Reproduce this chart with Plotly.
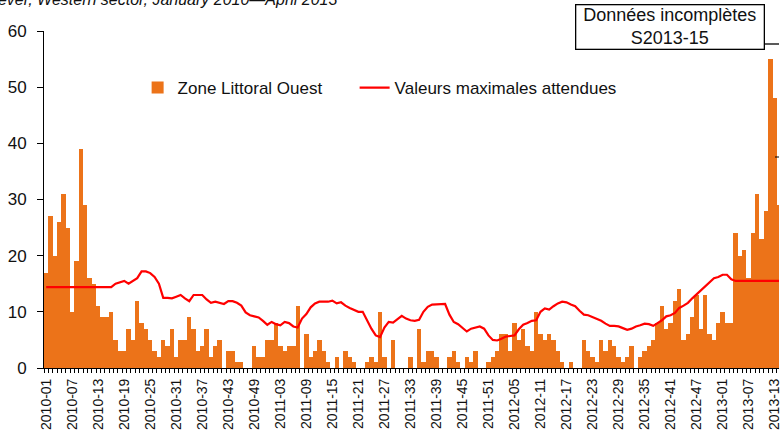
import plotly.graph_objects as go

# Weekly cases, Zone Littoral Ouest, 2010-01 .. 2013-14
cases = [17, 27, 20, 26, 31, 25, 10, 19, 39, 29, 16, 15, 11, 9, 9, 10, 5, 3, 3, 7,
         5, 12, 8, 7, 5, 3, 2, 5, 4, 7, 2, 5, 5, 9, 7, 3, 4, 7, 2, 4,
         5, 0, 3, 3, 1, 1, 0, 0, 4, 2, 2, 5, 5, 8, 4, 3, 4, 4, 11, 0,
         6, 2, 3, 5, 3, 1, 0, 2, 0, 3, 2, 1, 0, 0, 1, 2, 1, 10, 2, 0,
         5, 0, 0, 0, 2, 0, 7, 1, 3, 3, 2, 0, 0, 2, 3, 1, 0, 2, 1, 3,
         0, 0, 1, 2, 3, 6, 6, 3, 8, 5, 7, 4, 3, 10, 6, 5, 6, 5, 3, 1,
         0, 1, 0, 0, 5, 3, 2, 1, 5, 3, 5, 4, 2, 1, 2, 4, 0, 2, 3, 4,
         5, 8, 11, 7, 8, 12, 14, 5, 6, 9, 13, 7, 13, 6, 5, 8, 10, 8, 8, 24,
         20, 21, 16, 24, 31, 23, 28, 55, 48, 29]

# Expected maximum values
max_expected = [14.4, 14.4, 14.4, 14.4, 14.4, 14.4, 14.4, 14.4, 14.4, 14.4,
                14.4, 14.4, 14.4, 14.4, 14.4, 14.4, 15.0, 15.3, 15.5, 15.0,
                15.5, 16.0, 17.2, 17.2, 16.9, 16.2, 15.0, 12.5, 12.5, 12.4,
                12.7, 13.0, 12.4, 11.9, 13.0, 13.0, 13.0, 12.2, 11.6, 11.8,
                11.6, 11.4, 11.9, 11.9, 11.6, 11.1, 9.9, 9.4, 9.2, 9.0,
                8.4, 7.7, 8.2, 7.8, 7.6, 8.2, 8.0, 7.4, 7.2, 8.8,
                9.6, 10.8, 11.5, 11.8, 11.8, 11.8, 12.0, 11.5, 11.7, 11.1,
                10.7, 10.3, 10.0, 10.0, 8.5, 7.0, 5.8, 5.5, 7.2, 8.2,
                8.1, 8.7, 9.3, 8.8, 8.5, 8.4, 8.6, 10.0, 10.9, 11.3,
                11.3, 11.4, 11.4, 9.5, 8.2, 7.8, 7.2, 6.5, 7.0, 7.2,
                7.4, 7.0, 5.8, 5.0, 4.9, 5.2, 5.6, 5.7, 5.8, 6.9,
                7.7, 8.0, 8.4, 8.5, 10.0, 10.6, 10.4, 11.0, 11.5, 11.8,
                11.7, 11.3, 11.0, 10.2, 9.5, 9.4, 9.1, 8.7, 8.4, 7.9,
                7.5, 7.5, 7.4, 7.1, 6.8, 7.0, 7.4, 7.6, 7.9, 7.8,
                7.5, 8.0, 8.5, 9.2, 9.4, 9.8, 10.7, 11.1, 11.6, 12.4,
                13.1, 13.9, 14.6, 15.2, 16.0, 16.2, 16.6, 16.6, 15.8, 15.5,
                15.5, 15.5, 15.5, 15.5, 15.5, 15.5, 15.5, 15.5, 15.5, 15.5]

years = [2010, 2011, 2012, 2013]
weeks_per_year = [52, 52, 52, 14]
weeks = [f"{y}-{w:02d}" for y, n in zip(years, weeks_per_year) for w in range(1, n + 1)]
idx = list(range(len(weeks)))
tick_idx = idx[::6]
tick_text = weeks[::6]

font_family = "Liberation Sans, Arial, sans-serif"

fig = go.Figure()
fig.add_trace(go.Bar(
    x=idx, y=cases, name="Zone Littoral Ouest",
    marker=dict(color="#EC7319", line=dict(width=0)),
    width=1.0, legendwidth=172,
))
fig.add_trace(go.Scatter(
    x=idx, y=max_expected, name="Valeurs maximales attendues",
    mode="lines", line=dict(color="#FF0000", width=2.2),
))

W, H = 782, 432
L, R, T, B = 44, 0, 31, 64
pw = W - L - R
ph = H - T - B

def px_x(p):
    return (p - L) / pw

def px_y(p):
    return (H - B - p) / ph

fig.update_layout(
    width=W, height=H,
    margin=dict(l=L, r=R, t=T, b=B, pad=0),
    paper_bgcolor="white", plot_bgcolor="white",
    bargap=0,
    font=dict(family=font_family, color="#1a1a1a"),
    showlegend=True,
    legend=dict(
        orientation="h", x=px_x(138), y=px_y(88), xanchor="left", yanchor="middle",
        font=dict(size=17, family=font_family, color="#111"),
        bgcolor="rgba(0,0,0,0)", borderwidth=0,
        traceorder="normal",
    ),
    xaxis=dict(
        range=[-0.5, 169.0],
        tickmode="array", tickvals=tick_idx, ticktext=tick_text,
        tickangle=-90, tickfont=dict(size=14, family=font_family, color="#111"),
        ticks="", showgrid=False, zeroline=False,
        showline=True, linecolor="black", linewidth=1,
        ticklabelstandoff=4, ticklabeloverflow="allow",
        minor=dict(tickmode="linear", tick0=-0.5, dtick=1, ticks="outside",
                   ticklen=4, tickcolor="black", tickwidth=1, showgrid=False),
    ),
    yaxis=dict(
        range=[0, 60], tickmode="linear", tick0=0, dtick=10,
        ticks="outside", ticklen=6, tickcolor="black",
        tickfont=dict(size=17, family=font_family, color="#111"),
        ticklabelstandoff=7,
        showgrid=False, zeroline=False,
        showline=True, linecolor="black", linewidth=1,
    ),
)

# Partially visible title at the top
fig.add_annotation(
    xref="paper", yref="paper", x=px_x(340), y=1, xanchor="right", yanchor="middle",
    yshift=T + 1, showarrow=False,
    text="<i>Dengue fever, Western sector, January 2010—April 2013</i>",
    font=dict(size=16, family=font_family, color="#111"),
)

# Callout box
fig.add_annotation(
    xref="paper", yref="paper", x=px_x(672.5), y=px_y(27), xanchor="center", yanchor="middle",
    showarrow=False, text="Données incomplètes<br>S2013-15",
    font=dict(size=18, family=font_family, color="#111"),
    bgcolor="white", bordercolor="black", borderwidth=1.3, borderpad=1,
    width=185, height=41, align="center",
)
fig.add_shape(type="line", xref="paper", yref="paper",
              x0=px_x(767), x1=px_x(782), y0=px_y(44), y1=px_y(44),
              line=dict(color="black", width=1.3))
fig.add_shape(type="line", xref="paper", yref="paper",
              x0=px_x(778), x1=px_x(782), y0=px_y(157), y1=px_y(157),
              line=dict(color="black", width=1))

fig.write_html("out.html", config={"displayModeBar": False},
               post_script="document.body.style.margin='0';document.body.style.overflow='hidden';")
